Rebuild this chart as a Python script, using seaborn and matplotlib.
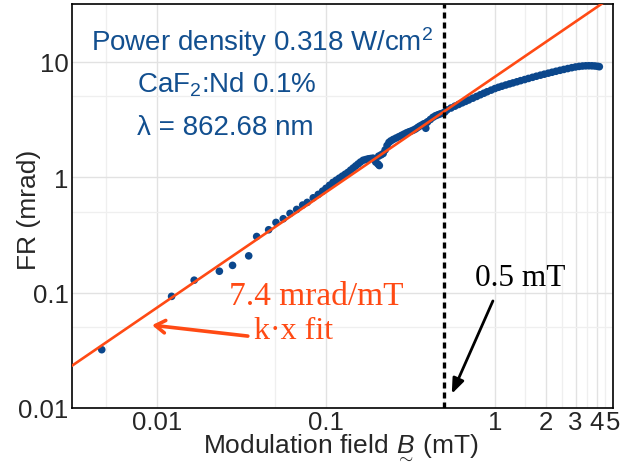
import numpy as np
import pandas as pd
import matplotlib
matplotlib.use("Agg")
import matplotlib.pyplot as plt
import matplotlib.ticker as mticker
import seaborn as sns

# ---------------- data ----------------
field_sparse = [0.00471, 0.0122, 0.0166, 0.0234, 0.0280, 0.0349, 0.0389, 0.0458,
                0.0506, 0.0559, 0.0613, 0.0671, 0.0728, 0.0775, 0.0841, 0.0900, 0.0955]
fr_sparse = [0.032, 0.0927, 0.128, 0.153, 0.172, 0.208, 0.306, 0.350,
             0.405, 0.436, 0.485, 0.525, 0.573, 0.604, 0.662, 0.708, 0.756]

field_mid = [0.100, 0.105, 0.110, 0.115, 0.120, 0.125, 0.130, 0.135, 0.140, 0.145,
             0.150, 0.155, 0.160, 0.166, 0.172, 0.178, 0.184, 0.190, 0.197, 0.203,
             0.207, 0.205, 0.212, 0.218, 0.224, 0.230, 0.236, 0.242, 0.250, 0.260,
             0.270, 0.280, 0.290, 0.300, 0.310, 0.320, 0.330, 0.340, 0.350, 0.360,
             0.370, 0.380, 0.390, 0.395, 0.400, 0.415, 0.430, 0.445, 0.460, 0.475,
             0.490, 0.505]
fr_mid = [0.80, 0.85, 0.90, 0.94, 0.98, 1.02, 1.06, 1.10, 1.15, 1.20,
          1.25, 1.30, 1.35, 1.40, 1.42, 1.44, 1.45, 1.46, 1.35, 1.30,
          1.26, 1.52, 1.56, 1.60, 1.72, 1.88, 2.00, 2.06, 2.12, 2.18,
          2.24, 2.30, 2.36, 2.42, 2.47, 2.51, 2.56, 2.62, 2.70, 2.77,
          2.83, 2.90, 2.65, 2.97, 3.02, 3.16, 3.30, 3.40, 3.47, 3.53,
          3.58, 3.66]

field_high = [0.52, 0.55, 0.58, 0.61, 0.64, 0.67, 0.70, 0.74, 0.78, 0.82, 0.86, 0.90,
              0.95, 1.00, 1.05, 1.10, 1.16, 1.22, 1.28, 1.35, 1.42, 1.50, 1.58, 1.67,
              1.76, 1.86, 1.96, 2.07, 2.18, 2.30, 2.43, 2.56, 2.70, 2.85, 3.00, 3.15,
              3.30, 3.45, 3.60, 3.75, 3.90, 4.05, 4.15]
fr_high = [3.82, 3.97, 4.12, 4.26, 4.40, 4.53, 4.66, 4.83, 5.00, 5.17, 5.33, 5.49,
           5.67, 5.85, 6.00, 6.13, 6.28, 6.42, 6.55, 6.70, 6.85, 7.00, 7.16, 7.32,
           7.48, 7.64, 7.79, 7.95, 8.10, 8.26, 8.42, 8.57, 8.72, 8.87, 9.00, 9.10,
           9.17, 9.21, 9.22, 9.21, 9.18, 9.12, 9.05]

fit_slope = 7.4          # mrad / mT
threshold_field = 0.5    # mT

x_limits = (0.00314, 5.0)
y_limits = (0.01, 31.6)
x_major = [0.01, 0.1, 1, 2, 3, 4, 5]
x_major_labels = ["0.01", "0.1", "1", "2", "3", "4", "5"]
x_minor = [0.005, 0.05, 0.5, 1.5, 2.5, 3.5, 4.5]
y_major = [0.01, 0.1, 1, 10]
y_major_labels = ["0.01", "0.1", "1", "10"]
y_minor = [0.05, 0.5, 5]

# ---------------- styling ----------------
sns.set_style("white")
plt.rcParams["font.family"] = ["Liberation Sans", "DejaVu Sans"]
plt.rcParams["mathtext.fontset"] = "custom"
plt.rcParams["mathtext.rm"] = "Liberation Sans"
plt.rcParams["mathtext.it"] = "Liberation Sans:italic"
plt.rcParams["mathtext.bf"] = "Liberation Sans:bold"

BLUE = "#0b478c"
TEXT_BLUE = "#124f8f"
ORANGE = "#ff4a14"

fig = plt.figure(figsize=(6.2, 4.64), dpi=100)
ax = fig.add_axes([72 / 620, 1 - 409 / 464, 541 / 620, 404 / 464])

df = pd.DataFrame({
    "field": field_sparse + field_mid + field_high,
    "fr": fr_sparse + fr_mid + fr_high,
})

fit_df = pd.DataFrame({"field": list(x_limits)})
fit_df["fr"] = fit_slope * fit_df["field"]

ax.set_xscale("log")
ax.set_yscale("log")

sns.scatterplot(data=df, x="field", y="fr", ax=ax, color=BLUE, s=30,
                edgecolor="none", linewidth=0, zorder=3)
sns.lineplot(data=fit_df, x="field", y="fr", ax=ax, color=ORANGE, lw=1.9,
             zorder=4)
ax.axvline(threshold_field, color="black", lw=2.4, ls=(0, (1.8, 1.2)), zorder=5)

ax.set_xlim(*x_limits)
ax.set_ylim(*y_limits)

ax.xaxis.set_major_locator(mticker.FixedLocator(x_major))
ax.xaxis.set_major_formatter(mticker.FixedFormatter(x_major_labels))
ax.xaxis.set_minor_locator(mticker.FixedLocator(x_minor))
ax.xaxis.set_minor_formatter(mticker.NullFormatter())
ax.yaxis.set_major_locator(mticker.FixedLocator(y_major))
ax.yaxis.set_major_formatter(mticker.FixedFormatter(y_major_labels))
ax.yaxis.set_minor_locator(mticker.FixedLocator(y_minor))
ax.yaxis.set_minor_formatter(mticker.NullFormatter())

ax.tick_params(which="major", direction="in", length=6.5, width=1.0,
               color="#333333", labelsize=18.5, pad=2.5)
ax.tick_params(which="minor", direction="in", length=3.5, width=1.0,
               color="#333333")
ax.tick_params(axis="x", which="major", pad=1.5)

ax.grid(which="major", color="#e2e2e2", lw=1.0, zorder=0)
ax.grid(which="minor", color="#efefef", lw=0.9, zorder=0)
ax.set_axisbelow(True)

for sp in ax.spines.values():
    sp.set_color("black")
    sp.set_linewidth(1.2)

ax.set_xlabel(r"Modulation field $\underset{\sim}{B}$ (mT)", fontsize=19)
ax.xaxis.set_label_coords(0.497, -0.060)
ax.set_ylabel("FR (mrad)", fontsize=19)
ax.yaxis.set_label_coords(-0.058, 0.493)

tr = ax.transAxes

# ---------------- annotations ----------------
ax.text(0.351, 0.908, r"Power density 0.318 W/cm$^2$", transform=tr,
        ha="center", va="center", fontsize=20, color=TEXT_BLUE)
ax.text(0.2865, 0.802, r"CaF$_2$:Nd 0.1%", transform=tr,
        ha="center", va="center", fontsize=20, color=TEXT_BLUE)
ax.text(0.283, 0.696, "λ = 862.68 nm", transform=tr,
        ha="center", va="center", fontsize=20, color=TEXT_BLUE)

ax.text(0.451, 0.277, "7.4 mrad/mT", transform=tr, ha="center", va="center",
        fontsize=24, color=ORANGE, family=["Liberation Serif", "DejaVu Serif"])
ax.text(0.410, 0.191, "k·x fit", transform=tr, ha="center", va="center",
        fontsize=23, color=ORANGE, family=["Liberation Serif", "DejaVu Serif"])
ax.annotate("", xy=(0.148, 0.205), xytext=(0.325, 0.178), xycoords=tr,
            textcoords=tr,
            arrowprops=dict(arrowstyle="->,head_length=0.7,head_width=0.45",
                            color=ORANGE, lw=2.6, shrinkA=0, shrinkB=0))

ax.text(0.828, 0.324, "0.5 mT", transform=tr, ha="center", va="center",
        fontsize=22.5, color="black", family=["Liberation Serif", "DejaVu Serif"])
ax.annotate("", xy=(0.702, 0.035), xytext=(0.778, 0.265), xycoords=tr,
            textcoords=tr,
            arrowprops=dict(arrowstyle="-|>,head_length=0.9,head_width=0.35",
                            color="black", lw=2.0, shrinkA=0, shrinkB=0))

fig.savefig("out.png", dpi=100)
